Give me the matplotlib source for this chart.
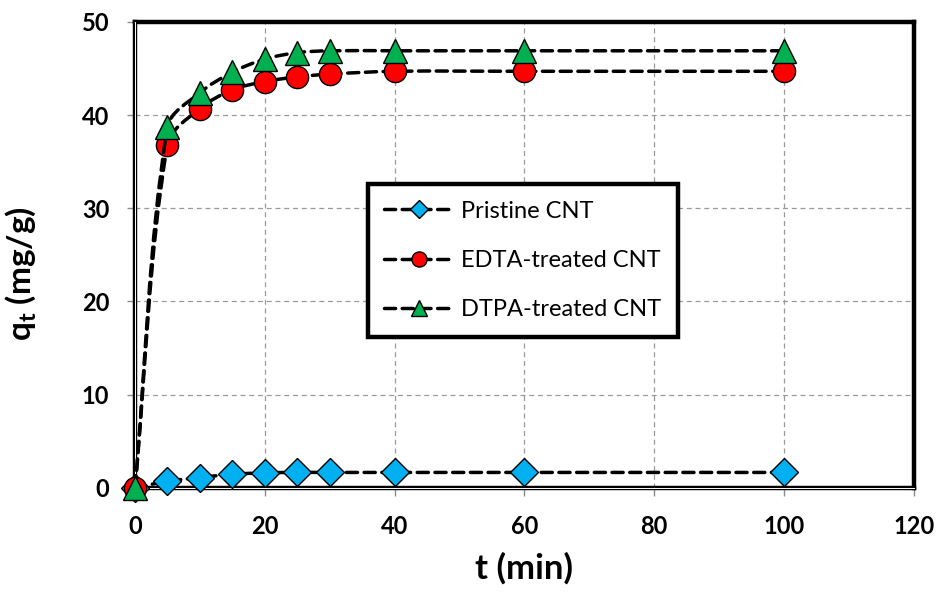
import numpy as np
import matplotlib
matplotlib.use("Agg")
import matplotlib.pyplot as plt
from matplotlib.path import Path
from matplotlib.patches import PathPatch
from matplotlib.lines import Line2D

plt.rcParams['font.family'] = ['Lato', 'DejaVu Sans']
plt.rcParams['mathtext.fontset'] = 'custom'
plt.rcParams['mathtext.rm'] = 'Lato:bold'
plt.rcParams['mathtext.it'] = 'Lato:bold'
plt.rcParams['mathtext.bf'] = 'Lato:bold'

# Data
t = [0, 5, 10, 15, 20, 25, 30, 40, 60, 100]
pristine = [0, 0.7, 1.1, 1.45, 1.6, 1.65, 1.65, 1.65, 1.65, 1.65]
edta = [0, 36.8, 40.7, 42.7, 43.6, 44.1, 44.4, 44.7, 44.7, 44.7]
dtpa = [0, 38.7, 42.4, 44.6, 46.0, 46.7, 46.9, 46.9, 46.9, 46.9]
labels = ['Pristine CNT', 'EDTA-treated CNT', 'DTPA-treated CNT']


def smooth_path(x, y, sx, sy):
    """Excel-like smoothed line: cubic Bezier through every point,
    tangents weighted by on-screen segment length (sx, sy = px per unit)."""
    p = np.column_stack([x, y]).astype(float)
    n = len(p)
    scr = p * [sx, sy]
    d = np.hypot(*np.diff(scr, axis=0).T)
    tang = np.zeros_like(p)
    for i in range(n):
        prev = p[i - 1] if i > 0 else p[i]
        nxt = p[i + 1] if i < n - 1 else p[i]
        tang[i] = nxt - prev
    verts = [p[0]]
    codes = [Path.MOVETO]
    for i in range(n - 1):
        dl = d[i - 1] if i > 0 else 0.0
        dr = d[i + 1] if i + 1 < n - 1 else 0.0
        c1 = p[i] + tang[i] * d[i] / (dl + d[i]) / 3.0
        c2 = p[i + 1] - tang[i + 1] * d[i] / (d[i] + dr) / 3.0
        verts += [c1, c2, p[i + 1]]
        codes += [Path.CURVE4] * 3
    return Path(verts, codes)


fig = plt.figure(figsize=(9.42, 5.92), dpi=100)
ax = fig.add_axes([0.1433, 0.176, 0.8267, 0.787])
ax.set_xlim(0, 120)
ax.set_ylim(0, 50)
ax.set_xticks(np.arange(0, 121, 20))
ax.set_yticks(np.arange(0, 51, 10))

bbox = ax.get_window_extent()
sx = bbox.width / 120.0
sy = bbox.height / 50.0

dash = (0, (3.2, 1.9))
lw = 2.5
styles = [
    dict(marker='D', mfc='#00B0F0', ms=14),
    dict(marker='o', mfc='#FF0000', ms=16),
    dict(marker='^', mfc='#00B050', ms=17),
]
series = [pristine, edta, dtpa]

handles = []
for k, (q, st) in enumerate(zip(series, styles)):
    patch = PathPatch(smooth_path(t, q, sx, sy), facecolor='none',
                      edgecolor='black', lw=lw, linestyle=dash,
                      capstyle='round', zorder=3 + 2 * k, clip_on=False)
    ax.add_patch(patch)
    ax.plot(t, q, linestyle='none', marker=st['marker'], ms=st['ms'],
            mfc=st['mfc'], mec='black', mew=1.0, zorder=4 + 2 * k,
            clip_on=False)
    handles.append(Line2D([], [], color='black', lw=lw, linestyle=dash,
                          dash_capstyle='round', marker=st['marker'],
                          ms=st['ms'] * 0.68, mfc=st['mfc'], mec='black',
                          mew=1.0))

ax.grid(True, color='#9a9a9a', linestyle=(0, (4, 3)), linewidth=0.9)
ax.set_axisbelow(True)

for s in ax.spines.values():
    s.set_linewidth(3.2)
    s.set_color('black')
    s.set_zorder(2.5)
# thin white core on the left and bottom axis lines (double-line look)
ax.plot([0, 120], [0, 0], color='white', lw=0.7, zorder=2.6, clip_on=False)
ax.plot([0, 0], [0, 50], color='white', lw=0.7, zorder=2.6, clip_on=False)

ax.tick_params(axis='both', direction='out', length=5.5, width=1,
               color='#8c8c8c', labelsize=17)
ax.tick_params(axis='y', pad=13)
ax.tick_params(axis='x', pad=14)
for lab in ax.get_xticklabels() + ax.get_yticklabels():
    lab.set_fontweight('bold')

ax.set_xlabel('t (min)', fontsize=25, fontweight='bold', labelpad=10)
ax.set_ylabel(r'q$_{\mathrm{t}}$ (mg/g)', fontsize=24, fontweight='bold',
              labelpad=8)
ax.yaxis.set_label_coords(-0.125, 0.46)

leg = ax.legend(handles, labels, loc='upper left',
                bbox_to_anchor=(0.299, 0.652), borderaxespad=0,
                fontsize=17, handlelength=2.9, labelspacing=1.2,
                borderpad=0.7, handletextpad=0.35, fancybox=False,
                framealpha=1, edgecolor='black')
leg.get_frame().set_linewidth(3.2)
leg.set_zorder(20)

fig.savefig('out.png', dpi=100)
